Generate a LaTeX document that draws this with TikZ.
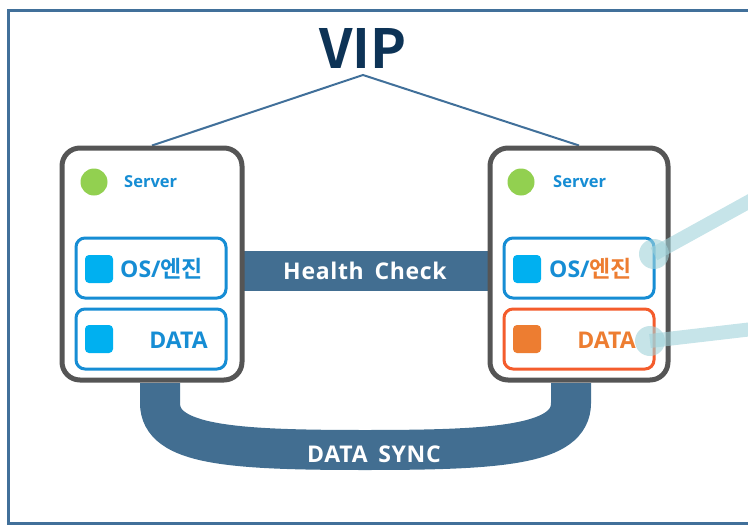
\documentclass[tikz,border=0pt]{standalone}
\usepackage{fontspec}
\setmainfont{Open Sans}
\newfontfamily\krfont{Noto Sans CJK KR}[BoldFont={Noto Sans CJK KR Bold}]
\newfontfamily\bannerfont{Open Sans}[LetterSpace=3, WordSpace=1.6]
\usetikzlibrary{backgrounds, positioning}

\definecolor{frameblue}{RGB}{65,112,154}
\definecolor{barblue}{RGB}{66,110,145}
\definecolor{vipnavy}{RGB}{13,51,86}
\definecolor{srvgrey}{RGB}{85,85,85}
\definecolor{partblue}{RGB}{22,141,212}
\definecolor{cyanbox}{RGB}{0,176,240}
\definecolor{okgreen}{RGB}{146,208,80}
\definecolor{warnorange}{RGB}{237,125,49}
\definecolor{warnred}{RGB}{244,92,44}
\definecolor{calloutteal}{RGB}{160,210,218}

\tikzset{
  server/.style={draw=srvgrey, line width=5pt, fill=white, rounded corners=18pt,
    minimum height=232pt, inner sep=0pt},
  part/.style={draw=partblue, line width=3pt, rounded corners=9pt,
    minimum width=150pt, minimum height=60pt, inner sep=0pt},
  partmark/.style={fill=cyanbox, rounded corners=4pt, minimum size=28pt, inner sep=0pt},
  partlabel/.style={font=\bfseries\fontsize{23}{23}\selectfont, text=partblue, inner sep=0pt},
  srvlabel/.style={font=\bfseries\fontsize{16.5}{16.5}\selectfont, text=partblue, inner sep=0pt},
  lamp/.style={circle, fill=okgreen, minimum size=27pt, inner sep=0pt},
  banner/.style={fill=barblue, text=white, font=\bannerfont\bfseries\fontsize{23}{23}\selectfont, inner sep=0pt},
  callout/.style={calloutteal, opacity=0.6, line width=14pt},
  callspot/.style={circle, fill=calloutteal, opacity=0.6, minimum size=30pt, inner sep=0pt}
}

\begin{document}
\begin{tikzpicture}[x=1pt, y=-1pt]
  \clip (0,0) rectangle (748,525);
  % Outer frame
  \draw[frameblue, line width=3pt] (8,10) rectangle (780,523);
  % VIP
  \node[font=\krfont\bfseries\fontsize{54}{54}\selectfont, text=vipnavy, inner sep=0pt] (vip) at (363,48) {VIP};
  \coordinate (vipfork) at (363,75);

  % Servers
  \node[server, minimum width=180pt] (srvL) at (152,264) {};
  \node[server, minimum width=178pt] (srvR) at (579,264) {};

  % Left server contents
  \node[lamp] (lampL) at (94,182) {};
  \node[srvlabel, anchor=west] (nameL) at (124,182) {Server};
  \node[part] (osL) at (151,268) {};
  \node[partmark] (osmarkL) at (99,269) {};
  \node[partlabel, anchor=west] (oslabelL) at (120,269) {OS/{\krfont 엔진}};
  \node[part] (dataL) at (151,339) {};
  \node[partmark] (datamarkL) at (99,339) {};
  \node[partlabel, anchor=east] (datalabelL) at (208,340) {DATA};

  % Right server contents
  \node[lamp] (lampR) at (521,182) {};
  \node[srvlabel, anchor=west] (nameR) at (553,182) {Server};
  \node[part] (osR) at (579,268) {};
  \node[partmark] (osmarkR) at (527,269) {};
  \node[partlabel, anchor=west] (oslabelR) at (549,269) {OS/\textcolor{warnorange}{\krfont 엔진}};
  \node[part, draw=warnred] (dataR) at (579,339) {};
  \node[partmark, fill=warnorange] (datamarkR) at (527,339) {};
  \node[partlabel, anchor=east, text=warnorange] (datalabelR) at (636,340) {DATA};

  \begin{scope}[on background layer]
    % VIP links
    \draw[frameblue, line width=2pt] (srvL.north) -- (vipfork) -- (srvR.north);
    % Health check
    \node[banner, minimum width=252pt, minimum height=40pt] (health) at (365,271) {Health Check};
    % Data sync
    \coordinate (syncL) at (160,383);
    \coordinate (syncR) at (571,383);
    \draw[barblue, line width=40pt] (syncL) -- ++(0,20)
      .. controls (160,445) and (230,450) .. (365,450)
      .. controls (500,450) and (571,445) .. (571,403) -- (syncR);
  \end{scope}
  \node[text=white, font=\bannerfont\bfseries\fontsize{23}{23}\selectfont, inner sep=0pt] (sync) at (374,454) {DATA SYNC};

  % Callouts
  \node[callspot] (spotA) at (654,254) {};
  \node[callspot] (spotB) at (650,341) {};
  \coordinate (tailA) at (770,190);
  \coordinate (tailB) at (770,327);
  \draw[callout] (spotA.center) -- (tailA);
  \draw[callout] (spotB.center) -- (tailB);
\end{tikzpicture}
\end{document}
